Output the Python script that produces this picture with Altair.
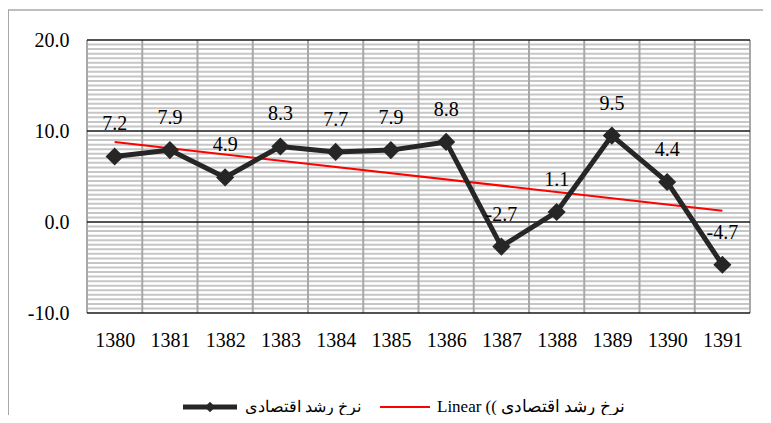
import altair as alt
import pandas as pd
import numpy as np

# ---- data ----
years = [1380, 1381, 1382, 1383, 1384, 1385, 1386, 1387, 1388, 1389, 1390, 1391]
growth = [7.2, 7.9, 4.9, 8.3, 7.7, 7.9, 8.8, -2.7, 1.1, 9.5, 4.4, -4.7]
y_ticks = [-10, 0, 10, 20]
minor_step = 0.5
series_name = "نرخ رشد اقتصادی"
trend_name = "Linear (( نرخ رشد اقتصادی"

FONT = "Times New Roman, Liberation Serif, serif"
df = pd.DataFrame({"year": years, "growth": growth, "lbl": [f"{v:.1f}" for v in growth]})

xscale = alt.Scale(domain=[years[0] - 0.5, years[-1] + 0.5], nice=False, zero=False)
yscale = alt.Scale(domain=[y_ticks[0], y_ticks[-1]], nice=False, zero=False)

x_axis = alt.Axis(
    values=years, format="d", grid=False, domain=False, ticks=False,
    labelFont=FONT, labelFontSize=20, labelColor="#000000",
    labelBaseline="middle", labelPadding=27, title=None,
)
y_axis = alt.Axis(
    values=y_ticks, format=".1f", grid=False, domain=False, ticks=False,
    labelFont=FONT, labelFontSize=20, labelColor="#000000",
    labelPadding=18, title=None,
    labelExpr="replace(datum.label, '\u2212', '-')",
)


def X(field):
    return alt.X(field, scale=xscale, axis=x_axis, title=None)


def Y(field):
    return alt.Y(field, scale=yscale, axis=y_axis, title=None)


minor_vals = [float(v) for v in np.arange(y_ticks[0], y_ticks[-1] + 0.001, minor_step) if v % 10 != 0]
minor_df = pd.DataFrame({"v": minor_vals})
major_df = pd.DataFrame({"v": y_ticks})
bounds_df = pd.DataFrame({"b": [y - 0.5 for y in years] + [years[-1] + 0.5]})
one = pd.DataFrame({"a": [0]})

minor_layer = alt.Chart(minor_df).mark_rule(color="#c6c6c6", strokeWidth=2).encode(y=Y("v:Q"))
vert_layer = alt.Chart(bounds_df).mark_rule(color="#a8a8a8", strokeWidth=2).encode(x=X("b:Q"))
major_layer = alt.Chart(major_df).mark_rule(color="#1a1a1a", strokeWidth=1.5).encode(y=Y("v:Q"))

base = alt.Chart(df)

trend_layer = base.transform_regression("year", "growth").mark_line(
    color="#ff0000", strokeWidth=2
).encode(x=X("year:Q"), y=Y("growth:Q"))

line_layer = base.mark_line(color="#262626", strokeWidth=5).encode(
    x=X("year:Q"), y=Y("growth:Q")
)

point_layer = base.mark_point(
    shape="diamond", filled=True, size=330, color="#262626", opacity=1
).encode(x=X("year:Q"), y=Y("growth:Q"))

label_layer = base.mark_text(
    font=FONT, fontSize=20, dy=-32, color="#000000"
).encode(x=X("year:Q"), y=Y("growth:Q"), text="lbl:N")

# ---- outer frame (partial, as in the cropped reference) ----
frame_top = alt.Chart(one).mark_rule(color="#a8a8a8", strokeWidth=1.5).encode(
    x=alt.value(-80), x2=alt.value(676), y=alt.value(-30)
)
frame_left = alt.Chart(one).mark_rule(color="#a8a8a8", strokeWidth=2).encode(
    x=alt.value(-79), y=alt.value(-30), y2=alt.value(380)
)

# ---- legend ----
leg_line = alt.Chart(one).mark_rule(color="#262626", strokeWidth=5).encode(
    x=alt.value(96), x2=alt.value(150), y=alt.value(367)
)
leg_pt = alt.Chart(one).mark_point(
    shape="diamond", filled=True, size=110, color="#262626", opacity=1
).encode(x=alt.value(123), y=alt.value(367))
leg_txt1 = alt.Chart(pd.DataFrame({"t": [series_name]})).mark_text(
    font=FONT, fontSize=16, align="left", baseline="middle", color="#000000"
).encode(x=alt.value(158), y=alt.value(367), text="t:N")
leg_red = alt.Chart(one).mark_rule(color="#ff0000", strokeWidth=2).encode(
    x=alt.value(293), x2=alt.value(343), y=alt.value(367)
)
leg_txt2 = alt.Chart(pd.DataFrame({"t": [trend_name]})).mark_text(
    font=FONT, fontSize=17, align="left", baseline="middle", color="#000000"
).encode(x=alt.value(350), y=alt.value(367), text="t:N")

chart = alt.layer(
    minor_layer, vert_layer, major_layer, trend_layer, line_layer, point_layer,
    label_layer, frame_top, frame_left, leg_line, leg_pt, leg_txt1, leg_red, leg_txt2,
).properties(
    width=663,
    height=273,
    autosize=alt.AutoSizeParams(type="none"),
    padding={"left": 79, "top": 32, "right": 13, "bottom": 102},
    background="#ffffff",
).configure_view(stroke=None)

chart.save("out.html", embed_options={"renderer": "svg", "actions": False})
